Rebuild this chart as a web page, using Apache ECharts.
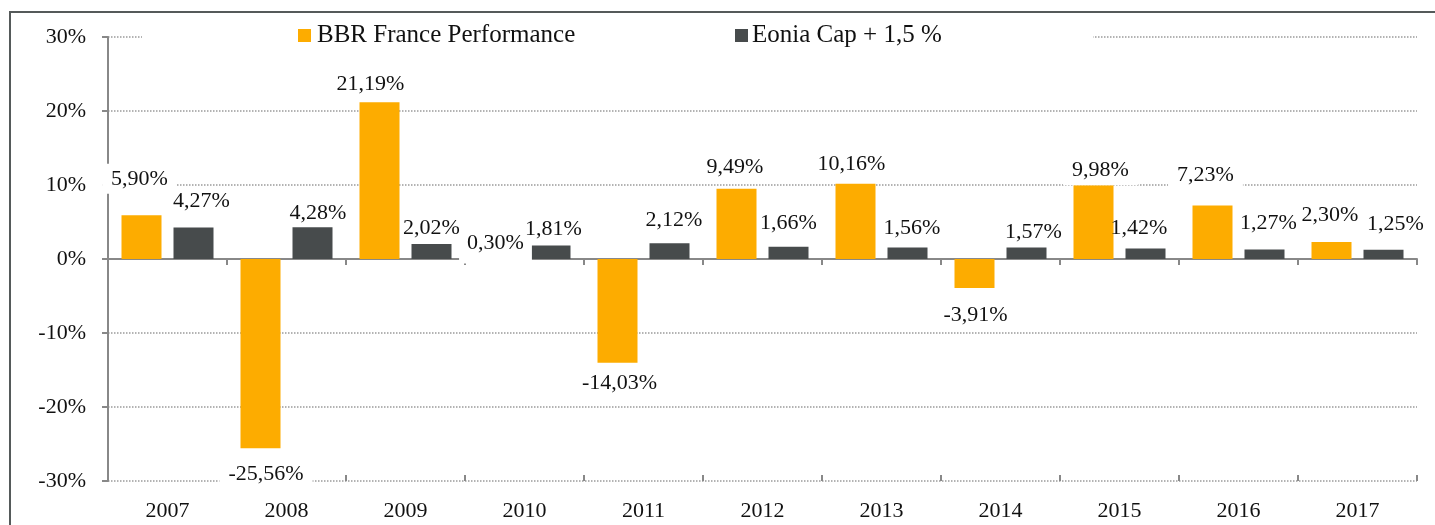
<!DOCTYPE html>
<html>
<head>
<meta charset="utf-8">
<script src="https://cdn.jsdelivr.net/npm/echarts@6/dist/echarts.min.js"></script>
<style>
html,body{margin:0;padding:0;background:#fff;}
#chart{width:1435px;height:525px;}
</style>
</head>
<body>
<div id="chart"></div>
<script>
// ---- data ----
const categories = ['2007','2008','2009','2010','2011','2012','2013','2014','2015','2016','2017'];
const seriesNames = ['BBR France Performance', 'Eonia Cap + 1,5 %'];
const bbrValues = [5.90, -25.56, 21.19, 0.30, -14.03, 9.49, 10.16, -3.91, 9.98, 7.23, 2.30];
const eoniaValues = [4.27, 4.28, 2.02, 1.81, 2.12, 1.66, 1.56, 1.57, 1.42, 1.27, 1.25];
const yMin = -30, yMax = 30, yInterval = 10;

// ---- label styling (nudges: [dx, gap from bar end, optional extra padding on the bar side]) ----
const bbrLabelNudge = [[-2,36.6],[5.5,26],[-9,18],[-3,13.4,5],[2,20],[-1.5,21.5],[-4,20],[1,27],[7,15],[-7,30],[-1.5,27]];
const eoniaLabelNudge = [[8,26.4],[5.5,14],[0,16],[3,16],[4.5,23],[0,23.5],[4.5,19],[7,15],[-6.5,20],[4,26],[12,25.6]];

const FONT = 'Liberation Serif';
const LH = 22, PADV = 4, PADH = 9;
const AXIS_GRAY = '#888888';

function fmt(v) { return v.toFixed(2).replace('.', ',') + '%'; }

function buildData(values, nudges, withBox) {
  return values.map((v, i) => {
    const [dx, gap, extra] = nudges[i];
    const ex = extra || 0;
    const half = withBox ? LH / 2 + PADV + ex : LH / 2;
    const label = {
      position: v >= 0 ? 'top' : 'bottom',
      distance: 0,
      offset: [dx, v >= 0 ? -(gap - half) : (gap - half)]
    };
    if (withBox && ex) {
      label.padding = v >= 0 ? [PADV, PADH - 1, PADV + ex, PADH - 1] : [PADV + ex, PADH, PADV, PADH];
    }
    return {value: v, label: label};
  });
}

const chart = echarts.init(document.getElementById('chart'), null, {renderer: 'canvas'});

const catAxisBase = {
  type: 'category',
  data: categories,
  boundaryGap: true,
  axisLabel: {show: false},
  splitLine: {show: false}
};

const option = {
  backgroundColor: '#ffffff',
  animation: false,
  grid: {left: 108, right: 18, top: 37, bottom: 44, containLabel: false},
  graphic: [
    {
      type: 'rect',
      z: 1,
      shape: {x: 142, y: 26, width: 951, height: 22},
      style: {fill: '#ffffff', stroke: null}
    },
    {
      type: 'rect',
      z: 10,
      shape: {x: 10, y: 12, width: 1460, height: 600},
      style: {fill: null, stroke: '#555a5a', lineWidth: 2}
    }
  ],
  legend: [
    {
      data: [seriesNames[0]],
      left: 298, top: 23, padding: 0,
      icon: 'rect', itemWidth: 13, itemHeight: 13, itemGap: 6,
      textStyle: {fontFamily: FONT, fontSize: 25, color: '#111', padding: [0,0,0,1]}
    },
    {
      data: [seriesNames[1]],
      left: 735, top: 23, padding: 0,
      icon: 'rect', itemWidth: 13, itemHeight: 13, itemGap: 6,
      textStyle: {fontFamily: FONT, fontSize: 25, color: '#111', padding: [0,0,0,-1]}
    }
  ],
  xAxis: [
    Object.assign({}, catAxisBase, {
      position: 'bottom',
      axisLine: {show: true, onZero: true, lineStyle: {color: AXIS_GRAY, width: 2}},
      axisTick: {show: true, inside: false, length: 6, lineStyle: {color: AXIS_GRAY, width: 2}}
    }),
    Object.assign({}, catAxisBase, {
      position: 'bottom',
      axisLine: {show: true, onZero: true, lineStyle: {color: 'rgba(0,0,0,0)', width: 0}},
      axisTick: {show: true, inside: true, length: 6, lineStyle: {color: AXIS_GRAY, width: 2}}
    }),
    Object.assign({}, catAxisBase, {
      position: 'bottom',
      axisLine: {show: false, onZero: false},
      axisTick: {show: false},
      axisLabel: {show: true, fontFamily: FONT, fontSize: 22, color: '#111', margin: 19, interval: 0}
    })
  ],
  yAxis: {
    type: 'value',
    min: yMin, max: yMax, interval: yInterval,
    axisLine: {show: true, lineStyle: {color: AXIS_GRAY, width: 2}},
    axisTick: {show: true, length: 6, lineStyle: {color: AXIS_GRAY, width: 2}},
    axisLabel: {formatter: '{value}%', fontFamily: FONT, fontSize: 22, color: '#111', margin: 22},
    splitLine: {show: true, lineStyle: {color: '#9a9a9a', width: 1.5, type: [1.5, 1.5]}}
  },
  series: [
    {
      name: seriesNames[0],
      type: 'bar',
      xAxisIndex: 0,
      barWidth: 40,
      barGap: '30%',
      itemStyle: {color: '#FDAC00'},
      label: {
        show: true, fontFamily: FONT, fontSize: 22, lineHeight: LH, color: '#111',
        backgroundColor: '#ffffff', padding: [PADV, PADH],
        formatter: p => fmt(p.value)
      },
      data: buildData(bbrValues, bbrLabelNudge, true)
    },
    {
      name: seriesNames[1],
      type: 'bar',
      xAxisIndex: 0,
      barWidth: 40,
      barGap: '30%',
      itemStyle: {color: '#474B4C'},
      label: {
        show: true, fontFamily: FONT, fontSize: 22, lineHeight: LH, color: '#111',
        formatter: p => fmt(p.value)
      },
      data: buildData(eoniaValues, eoniaLabelNudge, false)
    }
  ]
};

chart.setOption(option);
</script>
</body>
</html>
